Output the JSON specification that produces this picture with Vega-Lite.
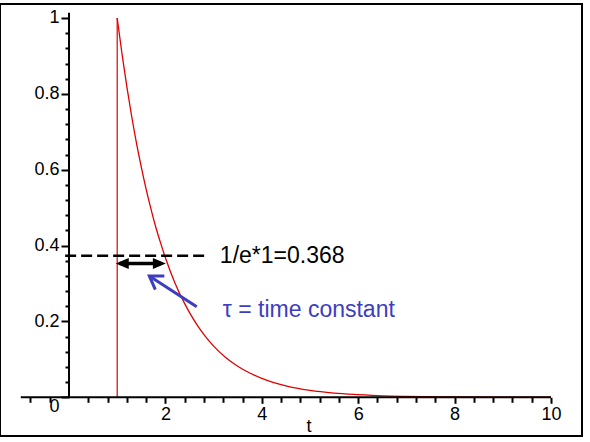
{
  "$schema": "https://vega.github.io/schema/vega-lite/v6.json",
  "width": 582,
  "height": 432,
  "autosize": {"type": "none"},
  "padding": {"left": 0, "top": 4, "right": 8, "bottom": 6},
  "background": "white",
  "config": {"view": {"stroke": "black", "strokeWidth": 2}},
  "datasets": {
    "curve": [
      {"t": 1, "v": 1}, {"t": 1.1, "v": 0.905}, {"t": 1.2, "v": 0.819}, {"t": 1.3, "v": 0.741},
      {"t": 1.4, "v": 0.670}, {"t": 1.5, "v": 0.607}, {"t": 1.6, "v": 0.549}, {"t": 1.7, "v": 0.497},
      {"t": 1.8, "v": 0.449}, {"t": 1.9, "v": 0.407}, {"t": 2.0, "v": 0.368}, {"t": 2.2, "v": 0.301},
      {"t": 2.4, "v": 0.247}, {"t": 2.6, "v": 0.202}, {"t": 2.8, "v": 0.165}, {"t": 3.0, "v": 0.135},
      {"t": 3.25, "v": 0.105}, {"t": 3.5, "v": 0.082}, {"t": 3.75, "v": 0.064}, {"t": 4.0, "v": 0.050},
      {"t": 4.5, "v": 0.030}, {"t": 5.0, "v": 0.018}, {"t": 5.5, "v": 0.011}, {"t": 6.0, "v": 0.007},
      {"t": 6.5, "v": 0.004}, {"t": 7.0, "v": 0.0025}, {"t": 8.0, "v": 0.001}, {"t": 9.0, "v": 0.0003},
      {"t": 10.0, "v": 0.0001}
    ],
    "pulse": [{"t": 1, "v0": 0, "v1": 1}],
    "axislines": [
      {"x1": -1, "x2": 10, "y1": 0, "y2": 0},
      {"x1": 0, "x2": 0, "y1": 0, "y2": 1.014}
    ],
    "level": [{"x1": -0.08, "x2": 2.86, "y": 0.373}],
    "span": [{"x1": 1.05, "x2": 1.9, "y": 0.353}],
    "spanheads": [{"x": 0.97, "y": 0.353, "dir": "left"}, {"x": 2.01, "y": 0.353, "dir": "right"}],
    "pointer": [{"x1": 2.65, "y1": 0.239, "x2": 1.666, "y2": 0.320}],
    "notes": [
      {"x": 3.13, "y": 0.353, "text": "1/e*1=0.368", "kind": "level"},
      {"x": 3.19, "y": 0.2125, "text": "τ = time constant", "kind": "tau"}
    ]
  },
  "resolve": {"axis": {"x": "independent", "y": "independent"}},
  "layer": [
    {
      "data": {"name": "curve"},
      "mark": {"type": "line", "color": "#e00000", "strokeWidth": 1.3, "interpolate": "monotone"},
      "encoding": {
        "x": {
          "field": "t", "type": "quantitative",
          "scale": {"domain": [-1.4315, 10.643], "nice": false, "zero": false},
          "axis": {
            "orient": "bottom", "offset": -38.7, "values": [2, 4, 6, 8, 10],
            "domain": false, "grid": false, "tickSize": 6, "tickWidth": 2, "tickColor": "black",
            "labelPadding": 2, "labelFont": "Liberation Sans", "labelFontSize": 18, "labelColor": "black",
            "format": "~r", "labelFlush": false, "labelOverlap": false,
            "title": "t", "titleFont": "Liberation Sans", "titleFontSize": 18, "titleFontWeight": "normal",
            "titleColor": "black", "titleX": 308.5, "titleY": 34.5, "titleAlign": "center", "titleBaseline": "alphabetic"
          }
        },
        "y": {
          "field": "v", "type": "quantitative",
          "scale": {"domain": [-0.102, 1.0369], "nice": false, "zero": false},
          "axis": {
            "orient": "left", "offset": -69, "values": [0, 0.2, 0.4, 0.6, 0.8, 1],
            "domain": false, "grid": false, "tickSize": 8, "tickWidth": 2, "tickColor": "black",
            "labelPadding": 2, "labelFont": "Liberation Sans", "labelFontSize": 18, "labelColor": "black",
            "format": "~r", "labelFlush": false, "labelOverlap": false,
            "labelBaseline": {"condition": {"test": "datum.value == 0", "value": "top"}, "value": "middle"},
            "title": null
          }
        }
      }
    },
    {
      "data": {"name": "pulse"},
      "mark": {"type": "rule", "color": "#e00000", "strokeWidth": 1.2},
      "encoding": {
        "x": {"field": "t", "type": "quantitative", "scale": {"domain": [-1.4315, 10.643], "nice": false, "zero": false}, "axis": null},
        "y": {"field": "v0", "type": "quantitative", "scale": {"domain": [-0.102, 1.0369], "nice": false, "zero": false}, "axis": null},
        "y2": {"field": "v1"}
      }
    },
    {
      "data": {"name": "axislines"},
      "mark": {"type": "rule", "color": "black", "strokeWidth": 2},
      "encoding": {
        "x": {
          "field": "x1", "type": "quantitative",
          "scale": {"domain": [-1.4315, 10.643], "nice": false, "zero": false},
          "axis": {
            "orient": "bottom", "offset": -38.7,
            "values": [-0.8, -0.4, 0.4, 0.8, 1.2, 1.6, 2.4, 2.8, 3.2, 3.6, 4.4, 4.8, 5.2, 5.6, 6.4, 6.8, 7.2, 7.6, 8.4, 8.8, 9.2, 9.6],
            "labels": false, "domain": false, "grid": false, "tickSize": 5, "tickWidth": 2, "tickColor": "black", "title": null
          }
        },
        "x2": {"field": "x2"},
        "y": {
          "field": "y1", "type": "quantitative",
          "scale": {"domain": [-0.102, 1.0369], "nice": false, "zero": false},
          "axis": {
            "orient": "left", "offset": -69,
            "values": [0.04, 0.08, 0.12, 0.16, 0.24, 0.28, 0.32, 0.36, 0.44, 0.48, 0.52, 0.56, 0.64, 0.68, 0.72, 0.76, 0.84, 0.88, 0.92, 0.96],
            "labels": false, "domain": false, "grid": false, "tickSize": 4, "tickWidth": 2, "tickColor": "black", "title": null
          }
        },
        "y2": {"field": "y2"}
      }
    },
    {
      "data": {"name": "level"},
      "mark": {"type": "rule", "color": "black", "strokeWidth": 2.5, "strokeDash": [11, 5]},
      "encoding": {
        "x": {"field": "x1", "type": "quantitative", "scale": {"domain": [-1.4315, 10.643], "nice": false, "zero": false}, "axis": null},
        "x2": {"field": "x2"},
        "y": {"field": "y", "type": "quantitative", "scale": {"domain": [-0.102, 1.0369], "nice": false, "zero": false}, "axis": null}
      }
    },
    {
      "data": {"name": "span"},
      "mark": {"type": "rule", "color": "black", "strokeWidth": 3.5},
      "encoding": {
        "x": {"field": "x1", "type": "quantitative", "scale": {"domain": [-1.4315, 10.643], "nice": false, "zero": false}, "axis": null},
        "x2": {"field": "x2"},
        "y": {"field": "y", "type": "quantitative", "scale": {"domain": [-0.102, 1.0369], "nice": false, "zero": false}, "axis": null}
      }
    },
    {
      "data": {"name": "spanheads"},
      "mark": {"type": "point", "filled": true, "color": "black", "opacity": 1, "size": 169},
      "encoding": {
        "x": {"field": "x", "type": "quantitative", "scale": {"domain": [-1.4315, 10.643], "nice": false, "zero": false}, "axis": null},
        "y": {"field": "y", "type": "quantitative", "scale": {"domain": [-0.102, 1.0369], "nice": false, "zero": false}, "axis": null},
        "shape": {
          "field": "dir", "type": "nominal",
          "scale": {"domain": ["left", "right"], "range": ["M0,0L2,-0.85L2,0.85Z", "M0,0L-2,-0.85L-2,0.85Z"]},
          "legend": null
        }
      }
    },
    {
      "data": {"name": "pointer"},
      "mark": {"type": "rule", "color": "#3d3dbf", "strokeWidth": 3},
      "encoding": {
        "x": {"field": "x1", "type": "quantitative", "scale": {"domain": [-1.4315, 10.643], "nice": false, "zero": false}, "axis": null},
        "y": {"field": "y1", "type": "quantitative", "scale": {"domain": [-0.102, 1.0369], "nice": false, "zero": false}, "axis": null},
        "x2": {"field": "x2"},
        "y2": {"field": "y2"}
      }
    },
    {
      "data": {"name": "pointer"},
      "mark": {"type": "point", "filled": false, "color": "#3d3dbf", "opacity": 1, "strokeWidth": 3, "size": 159, "angle": 213.4, "shape": "M-2,-1.3L0,0L-2,1.3"},
      "encoding": {
        "x": {"field": "x2", "type": "quantitative", "scale": {"domain": [-1.4315, 10.643], "nice": false, "zero": false}, "axis": null},
        "y": {"field": "y2", "type": "quantitative", "scale": {"domain": [-0.102, 1.0369], "nice": false, "zero": false}, "axis": null}
      }
    },
    {
      "data": {"name": "notes"},
      "mark": {"type": "text", "align": "left", "baseline": "alphabetic", "font": "Liberation Sans", "fontSize": 23},
      "encoding": {
        "x": {"field": "x", "type": "quantitative", "scale": {"domain": [-1.4315, 10.643], "nice": false, "zero": false}, "axis": null},
        "y": {"field": "y", "type": "quantitative", "scale": {"domain": [-0.102, 1.0369], "nice": false, "zero": false}, "axis": null},
        "text": {"field": "text"},
        "color": {"field": "kind", "type": "nominal", "scale": {"domain": ["level", "tau"], "range": ["black", "#3d3dbf"]}, "legend": null}
      }
    }
  ]
}
